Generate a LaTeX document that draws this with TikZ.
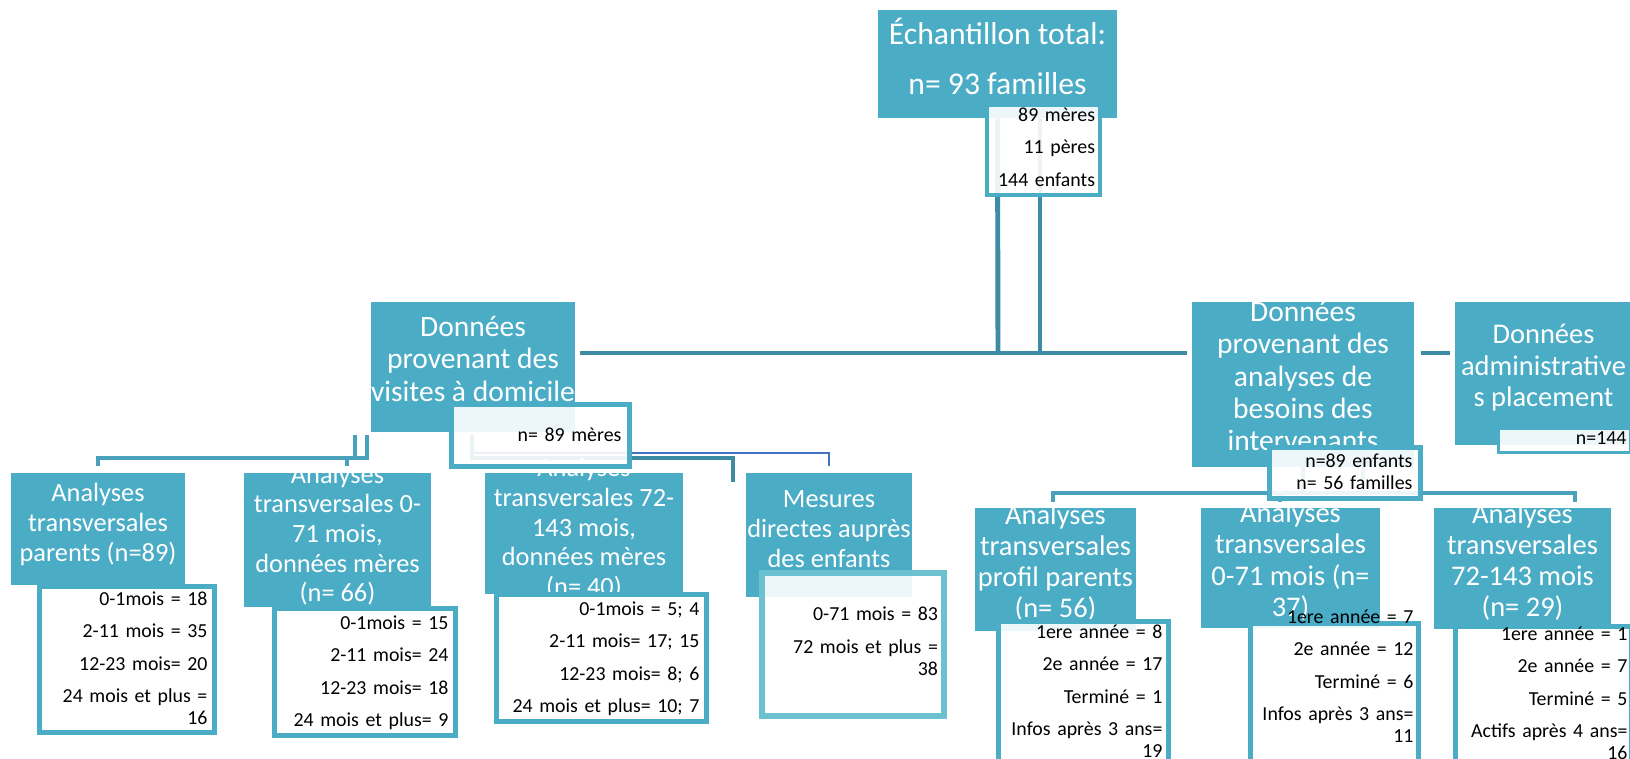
\documentclass[tikz,border=0pt]{standalone}
\usepackage{fontspec}
\setmainfont{Carlito}
\usepackage{xcolor}
\usetikzlibrary{backgrounds}

\definecolor{boxteal}{RGB}{75,172,198}
\definecolor{linkteal}{RGB}{62,140,163}
\definecolor{linklow}{RGB}{72,162,188}
\definecolor{linkblue}{RGB}{68,114,196}
\definecolor{subpale}{RGB}{108,193,208}

\newcommand{\boxlines}[1]{\raisebox{-3.3pt}{\makebox[0pt]{\smash{\begin{tabular}{@{}c@{}}#1\end{tabular}}}}}

\tikzset{
  box/.style={fill=boxteal, text=white, inner sep=0pt},
  bigtxt/.style={font=\fontsize{16.8}{18.4}\selectfont},
  midtxt/.style={font=\fontsize{16.2}{17.8}\selectfont},
  lowtxt/.style={font=\fontsize{15}{16.9}\selectfont},
  subbox/.style={draw=boxteal, line width=2.8pt, fill=white, fill opacity=0.9, text opacity=1,
    text=black, align=right, inner ysep=0pt, anchor=north west, font=\fontsize{11.3}{12.5}\selectfont},
  link/.style={draw=linkteal, line width=2.8pt},
  linklo/.style={draw=linklow, line width=2.8pt},
  thinlink/.style={draw=linkblue, line width=1.2pt}
}

\begin{document}
\begin{tikzpicture}[x=0.02cm, y=-0.02cm]
  \useasboundingbox (0,0) rectangle (1630,759);

  % top
  \node[box, font=\fontsize{18}{28.5}\selectfont, minimum width=4.78cm, minimum height=2.16cm] (total) at (997.5,64)
    {\boxlines{Échantillon total:\\n= 93 familles}};

  % second level
  \node[box, bigtxt, minimum width=4.08cm, minimum height=2.6cm] (visites) at (473,367)
    {\boxlines{Données\\provenant des\\visites à domicile}};
  \node[box, bigtxt, minimum width=4.44cm, minimum height=3.3cm] (besoins) at (1303,384.5)
    {\boxlines{Données\\provenant des\\analyses de\\besoins des\\intervenants}};
  \node[box, midtxt, minimum width=3.54cm, minimum height=2.86cm] (place) at (1543.5,373.5)
    {\boxlines{Données\\administrative\\s placement}};

  % third level, left
  \node[box, lowtxt, minimum width=3.48cm, minimum height=2.24cm] (parents) at (98,529)
    {\boxlines{Analyses\\transversales\\parents (n=89)}};
  \node[box, lowtxt, minimum width=3.74cm, minimum height=2.68cm] (meres071) at (337.5,540)
    {\boxlines{Analyses\\transversales 0-\\71 mois,\\données mères\\(n= 66)}};
  \node[box, lowtxt, minimum width=3.96cm, minimum height=2.42cm] (meres72) at (584,533.5)
    {\boxlines{Analyses\\transversales 72-\\143 mois,\\données mères\\(n= 40)}};
  \node[box, lowtxt, minimum width=3.32cm, minimum height=2.48cm] (mesures) at (829,535)
    {\boxlines{Mesures\\directes auprès\\des enfants}};

  % third level, right
  \node[box, midtxt, minimum width=3.22cm, minimum height=2.46cm] (profil) at (1055.5,569.5)
    {\boxlines{Analyses\\transversales\\profil parents\\(n= 56)}};
  \node[box, midtxt, minimum width=3.58cm, minimum height=2.4cm] (int071) at (1290.5,568)
    {\boxlines{Analyses\\transversales\\0-71 mois (n=\\37)}};
  \node[box, midtxt, minimum width=3.54cm, minimum height=2.42cm] (int72) at (1522.5,568.5)
    {\boxlines{Analyses\\transversales\\72-143 mois\\(n= 29)}};

  % counts
  \node[subbox, line width=2.3pt, inner xsep=0.1cm, text width=2.06cm, text height=0.32cm, text depth=1.48cm] (totInfo) at (985,103)
    {89 mères\\[6pt]11 pères\\[6pt]144 enfants};
  \node[subbox, inner xsep=0.16cm, text width=3.24cm, text height=0.74cm, text depth=0.5cm] (visInfo) at (449,402)
    {n= 89 mères};
  \node[subbox, inner xsep=0.16cm, text width=2.7cm, text height=0.4cm, text depth=0.62cm] (besInfo) at (1267,445)
    {n=89 enfants\\n= 56 familles};
  \node[subbox, line width=1.7pt, inner xsep=0.08cm, text width=2.48cm, text height=0.32cm, text depth=0.16cm] (placeInfo) at (1497,427)
    {n=144};

  \node[subbox, inner xsep=0.14cm, text width=3.22cm, text height=0.38cm, text depth=2.54cm] (parentsInfo) at (37,584)
    {0-1mois = 18\\[6pt]2-11 mois = 35\\[6pt]12-23 mois= 20\\[6pt]24 mois et plus =\\16};
  \node[subbox, inner xsep=0.14cm, text width=3.34cm, text height=0.42cm, text depth=2.12cm] (meres071Info) at (272,606)
    {0-1mois = 15\\[6pt]2-11 mois= 24\\[6pt]12-23 mois= 18\\[6pt]24 mois et plus= 9};
  \node[subbox, inner xsep=0.14cm, text width=3.92cm, text height=0.42cm, text depth=2.12cm] (meres72Info) at (494,592)
    {0-1mois = 5; 4\\[6pt]2-11 mois= 17; 15\\[6pt]12-23 mois= 8; 6\\[6pt]24 mois et plus= 10; 7};
  \node[subbox, draw=subpale, line width=3.4pt, inner xsep=0.12cm, text width=3.4cm, text height=0.96cm, text depth=1.9cm] (mesuresInfo) at (759,570)
    {0-71 mois = 83\\[6pt]72 mois et plus =\\38};

  \node[subbox, inner xsep=0.12cm, text width=3.16cm, text height=0.34cm, text depth=2.78cm] (profilInfo) at (996,619)
    {1ere année = 8\\[6pt]2e année = 17\\[6pt]Terminé = 1\\[6pt]Infos après 3 ans=\\19};
  \node[subbox, inner xsep=0.1cm, text width=3.16cm, text height=0cm, text depth=3.08cm] (int071Info) at (1248,621)
    {1ere année = 7\\[6pt]2e année = 12\\[6pt]Terminé = 6\\[6pt]Infos après 3 ans=\\11};
  \node[subbox, inner xsep=0.08cm, text width=3.36cm, text height=0.28cm, text depth=2.74cm] (int72Info) at (1453,624)
    {1ere année = 1\\[6pt]2e année = 7\\[6pt]Terminé = 5\\[6pt]Actifs après 4 ans=\\16};

  % connectors
  \begin{scope}[on background layer]
    \coordinate (hubA) at (998,353);
    \coordinate (hubB) at (1040,353);
    \draw[link] (total.south) -- (hubA);
    \draw[link] (total.south -| hubB) -- (hubB);
    \draw[link, shorten <=0.1cm, shorten >=0.1cm] (visites.east |- hubA) -- (besoins.west |- hubA);
    \draw[link, shorten <=0.14cm, shorten >=0.1cm] (besoins.east |- hubA) -- (place.west |- hubA);

    \coordinate (lj1) at (98,458);
    \coordinate (lj2) at (367,458);
    \coordinate (lj3) at (347,458);
    \coordinate (lj4) at (355,458);
    \draw[linklo, shorten <=0.14cm, shorten >=0.06cm] (lj1 |- parents.north) -- (lj1) -- (lj2) -- (lj2 |- visites.south);
    \draw[linklo, shorten <=0.06cm] (lj4 |- visites.south) -- (lj4);
    \draw[linklo, shorten >=0.14cm] (lj3) -- (lj3 |- meres071.north);

    \coordinate (mj1) at (472,458);
    \coordinate (mj2) at (733,458);
    \coordinate (mj3) at (733,482);
    \draw[link, shorten <=0.06cm] (mj1 |- visites.south) -- (mj1) -- (mj2) -- (mj3);
    \coordinate (bj1) at (472,453);
    \coordinate (bj2) at (829,453);
    \draw[thinlink, shorten >=0.14cm] (bj1) -- (bj2) -- (mesures.north);

    \coordinate (rj1) at (1053,493);
    \coordinate (rj2) at (1280,493);
    \coordinate (rj3) at (1575,493);
    \coordinate (rj4) at (1363,493);
    \draw[linklo, shorten <=0.12cm, shorten >=0.12cm] (rj1 |- profil.north) -- (rj1) -- (rj3) -- (rj3 |- int72.north);
    \draw[linklo, shorten >=0.12cm] (rj2) -- (rj2 |- int071.north);
    \draw[linklo] (besoins.south) -- (besoins.south |- rj1);
    \draw[linklo] (rj4 |- besoins.south) -- (rj4);
  \end{scope}
\end{tikzpicture}
\end{document}
